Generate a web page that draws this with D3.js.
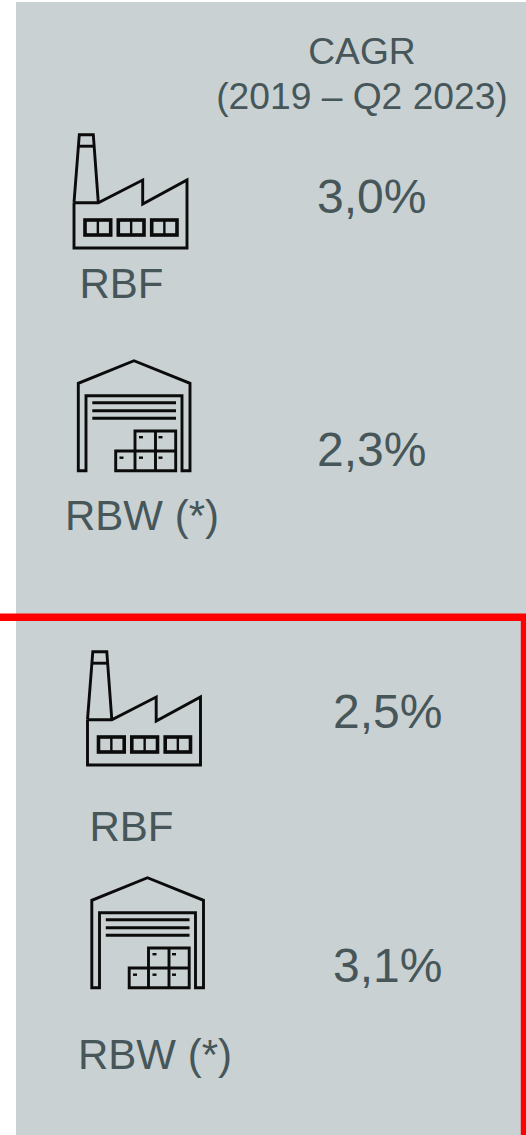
<!DOCTYPE html>
<html>
<head>
<meta charset="utf-8">
<script src="https://cdn.jsdelivr.net/npm/d3@7"></script>
<style>
  html, body { margin: 0; padding: 0; background: #fff; overflow: hidden; }
  svg { display: block; }
  text { font-family: "Liberation Sans", Arial, sans-serif; fill: #465659; }
</style>
</head>
<body>
<script>
const [svgWidth, svgHeight] = [526, 1135];

const headerLines = ["CAGR", "(2019 – Q2 2023)"];
const siteLabels = ["RBF", "RBW (*)", "RBF", "RBW (*)"];
const siteIcons = ["factory", "warehouse", "factory", "warehouse"];
const cagrValues = ["3,0%", "2,3%", "2,5%", "3,1%"];

// where each row sits (icon origin, label, value)
const iconX = [74, 78, 87.5, 91.5];
const iconY = [134.7, 360.7, 651.7, 877.7];
const labelX = [79.5, 65, 89.5, 78];
const labelY = [298, 530, 841, 1069];
const valueX = [317, 317, 333, 333];
const valueY = [213, 466, 728, 982];

const iconPaths = {
  factory: [
    "M0,68 L5.3,0 H19.3 L24.3,68",
    "M5,11.5 H19.5",
    "M0,68 V113.3 H113 V45.3 L68.7,69.3 V45.3 L24.3,68 H0"
  ],
  warehouse: [
    "M0.3,110 V22.6 L56,0 L112,22.6 V110 H104 V35 H8 V110 Z",
    "M14.3,42 H98",
    "M14.3,50 H98",
    "M14.3,57.6 H98",
    "M57,90.3 V70.3 H97.7 V110 H37.7 V90.3 H97.7 M57,90.3 V110 M77.5,70.3 V110"
  ]
};
const factoryWindows = [[11, 36.7], [44.3, 70], [77.7, 103]];
const warehouseDots = [[63, 76.5], [82.5, 76.5], [43.5, 97], [63, 97], [82.5, 97]];

const svg = d3.select("body")
  .append("svg")
  .attr("width", svgWidth)
  .attr("height", svgHeight);

// grey panel
svg.append("rect")
  .attr("x", 16)
  .attr("y", 2)
  .attr("width", svgWidth - 16)
  .attr("height", svgHeight - 2)
  .attr("fill", "#c9d1d3");

// header
svg.selectAll("text.header")
  .data(headerLines)
  .enter()
  .append("text")
    .attr("class", "header")
    .attr("x", 362)
    .attr("y", (d, i) => 64 + i * 45)
    .attr("text-anchor", "middle")
    .attr("font-size", "37.2px")
    .text(d => d);

// icons
const icons = svg.selectAll("g.icon")
  .data(siteIcons)
  .enter()
  .append("g")
    .attr("class", "icon")
    .attr("transform", (d, i) => `translate(${iconX[i]},${iconY[i]})`);

icons.selectAll("path")
  .data(d => iconPaths[d])
  .enter()
  .append("path")
    .attr("d", d => d)
    .attr("fill", "none")
    .attr("stroke", "#0b0b0b")
    .attr("stroke-width", 2.9);

// factory windows: heavy frame, thin middle bar
const windows = icons.filter(d => d === "factory")
  .selectAll("g")
  .data(factoryWindows)
  .enter()
  .append("g");

windows.append("rect")
    .attr("x", d => d[0])
    .attr("y", 85.3)
    .attr("width", d => d[1] - d[0])
    .attr("height", 15)
    .attr("fill", "none")
    .attr("stroke", "#0b0b0b")
    .attr("stroke-width", 3.6);

windows.append("line")
    .attr("x1", d => (d[0] + d[1]) / 2)
    .attr("x2", d => (d[0] + d[1]) / 2)
    .attr("y1", 85.3)
    .attr("y2", 100.3)
    .attr("stroke", "#0b0b0b")
    .attr("stroke-width", 2.4);

icons.filter(d => d === "warehouse")
  .selectAll("rect")
  .data(warehouseDots)
  .enter()
  .append("rect")
    .attr("x", d => d[0] - 2)
    .attr("y", d => d[1] - 1.2)
    .attr("width", 4)
    .attr("height", 2.4)
    .attr("fill", "#0b0b0b");

// labels under the icons
svg.selectAll("text.site")
  .data(siteLabels)
  .enter()
  .append("text")
    .attr("class", "site")
    .attr("x", (d, i) => labelX[i])
    .attr("y", (d, i) => labelY[i])
    .attr("font-size", "42px")
    .text(d => d);

// CAGR values
svg.selectAll("text.value")
  .data(cagrValues)
  .enter()
  .append("text")
    .attr("class", "value")
    .attr("x", (d, i) => valueX[i])
    .attr("y", (d, i) => valueY[i])
    .attr("font-size", "48px")
    .text(d => d);

// red frame around the lower rows
svg.append("path")
  .attr("d", `M0,617.3 H524.5 V${svgHeight}`)
  .attr("fill", "none")
  .attr("stroke", "#ff0000")
  .attr("stroke-width", 7.4);
</script>
</body>
</html>
